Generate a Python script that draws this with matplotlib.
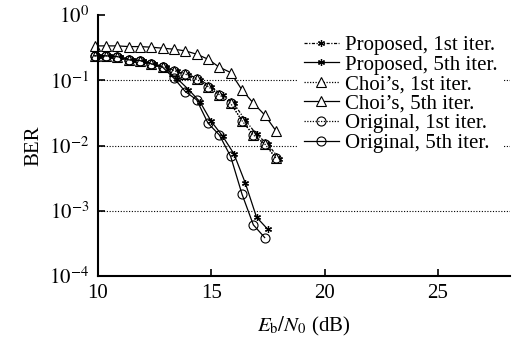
import matplotlib
matplotlib.use("Agg")
import matplotlib.pyplot as plt

# ----------------------------
# Data
# ----------------------------

x_prop = [10.0, 10.5, 11.0, 11.5, 12.0, 12.5, 13.0, 13.5, 14.0, 14.5,
          15.0, 15.5, 16.0, 16.5, 17.0, 17.5, 18.0]
x_other = [9.86, 10.36, 10.86, 11.36, 11.86, 12.36, 12.86, 13.36, 13.86, 14.36,
           14.86, 15.36, 15.86, 16.36, 16.86, 17.36, 17.86]

prop_1st = [0.232, 0.232, 0.226, 0.205, 0.196, 0.176, 0.158, 0.138, 0.122, 0.102,
            0.079, 0.059, 0.044, 0.0245, 0.0148, 0.0104, 0.0063]
prop_5th = [0.232, 0.232, 0.226, 0.205, 0.196, 0.176, 0.152, 0.106, 0.072, 0.047,
            0.0235, 0.014, 0.0075, 0.0027, 0.0008, 0.00052]

choi_1st = [0.238, 0.236, 0.23, 0.207, 0.2, 0.18, 0.162, 0.14, 0.125, 0.104,
            0.08, 0.06, 0.0445, 0.024, 0.0145, 0.0106, 0.0064]
choi_5th = [0.335, 0.335, 0.335, 0.327, 0.327, 0.32, 0.309, 0.298, 0.281, 0.25,
            0.21, 0.158, 0.131, 0.071, 0.0445, 0.0294, 0.0167]

orig_1st = [0.236, 0.236, 0.23, 0.205, 0.2, 0.178, 0.16, 0.14, 0.124, 0.103,
            0.08, 0.06, 0.044, 0.024, 0.0145, 0.0106, 0.0064]
orig_5th = [0.236, 0.236, 0.23, 0.205, 0.2, 0.178, 0.158, 0.107, 0.067, 0.05,
            0.022, 0.0145, 0.0068, 0.0018, 0.00061, 0.00039]

y_ticks = [1e-4, 1e-3, 1e-2, 1e-1, 1e0]
y_ticklabels = [r"$10^{-4}$", r"$10^{-3}$", r"$10^{-2}$", r"$10^{-1}$", r"$10^{0}$"]
x_ticks = [10, 15, 20, 25]
grid_levels = [1e-1, 1e-2, 1e-3]

# ----------------------------
# Plot
# ----------------------------

plt.rcParams["font.family"] = ["Liberation Serif", "DejaVu Serif"]
plt.rcParams["mathtext.fontset"] = "stix"

fig = plt.figure(figsize=(5.12, 3.38), dpi=100)
ax = fig.add_axes([0.191, 0.183, 0.806, 0.773])

dashdot = (0, (2.5, 1.2, 1, 1.2))
dot = (0, (1, 1.2))
lw = 0.9
k = "black"
star = dict(marker=(6, 2, 0), ms=5, mew=0.9)
tri = dict(marker="^", ms=7, mfc="white", mew=0.8)
circ = dict(marker="o", ms=6.5, mfc="none", mew=0.8)

lines = [
    ax.plot(x_prop, prop_1st, color=k, lw=lw, ls=dashdot, label="Proposed, 1st iter.", **star),
    ax.plot(x_prop[:len(prop_5th)], prop_5th, color=k, lw=lw, ls="-",
            label="Proposed, 5th iter.", **star),
    ax.plot(x_other, choi_1st, color=k, lw=lw, ls=dot, label="Choi\u2019s, 1st iter.", **tri),
    ax.plot(x_other, choi_5th, color=k, lw=lw, ls="-", label="Choi\u2019s, 5th iter.", **tri),
    ax.plot(x_other, orig_1st, color=k, lw=lw, ls=dot, label="Original, 1st iter.", **circ),
    ax.plot(x_other[:len(orig_5th)], orig_5th, color=k, lw=lw, ls="-",
            label="Original, 5th iter.", **circ),
]
for l in lines:
    l[0].set_clip_on(False)

for g in grid_levels:
    ax.axhline(g, color=k, lw=0.8, ls=(0, (1, 1.5)), zorder=0)

ax.set_yscale("log")
ax.set_ylim(1e-4, 1e0)
ax.set_xlim(10, 28.2)
ax.set_yticks(y_ticks)
ax.set_yticklabels(y_ticklabels)
ax.yaxis.set_minor_locator(matplotlib.ticker.NullLocator())
ax.set_xticks(x_ticks)

ax.spines["top"].set_visible(False)
ax.spines["right"].set_visible(False)
for s in ("left", "bottom"):
    ax.spines[s].set_linewidth(1.5)
ax.tick_params(direction="in", length=5, width=1.2, labelsize=15, pad=6)

ax.set_ylabel("BER", fontsize=15, labelpad=4)
ax.set_xlabel(r"$E_{\mathrm{b}}/N_0$ (dB)", fontsize=15, labelpad=8)

leg = ax.legend(loc="upper right", bbox_to_anchor=(1.009, 0.985), fontsize=15,
                handlelength=1.65, handletextpad=0.3, labelspacing=0.0,
                frameon=True, fancybox=False, borderpad=0.3)
leg.get_frame().set_edgecolor("none")
leg.get_frame().set_alpha(1)

fig.savefig("out.png", dpi=100)
